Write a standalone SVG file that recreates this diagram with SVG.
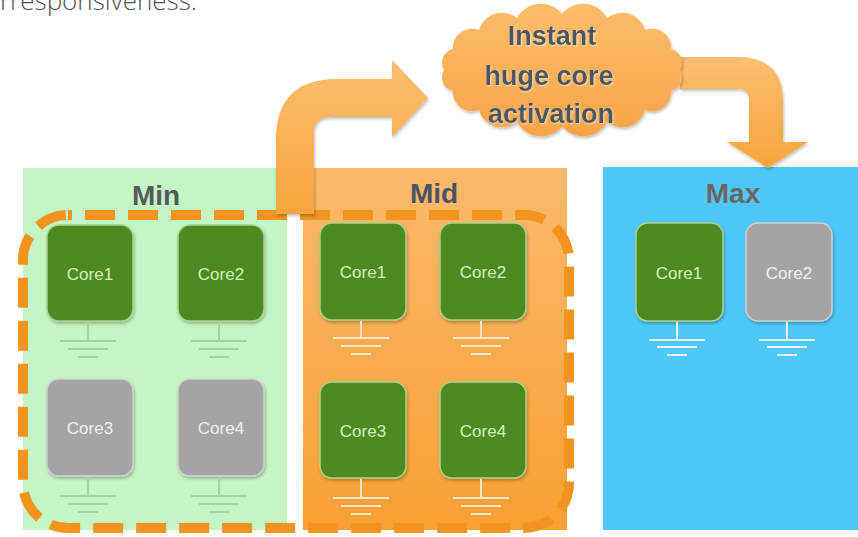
<svg xmlns="http://www.w3.org/2000/svg" width="858" height="537" viewBox="0 0 858 537">
<defs>
<style>
.top{font-family:"Open Sans","Liberation Sans",sans-serif;font-size:26px;font-weight:300;fill:#4f5458}
.plabel{font-family:"Liberation Sans",Arial,sans-serif;font-size:28px;font-weight:bold;text-anchor:middle}
.ctext{font-family:"Liberation Sans",Arial,sans-serif;font-size:17px;text-anchor:middle}
.green rect{fill:#4d8a22;stroke:#a9d48a;stroke-width:1.5}
.green text{fill:#d4f0bc}
.gray rect{fill:#a4a4a4;stroke:#cfcfcf;stroke-width:1.5}
.gray text{fill:#efefef}
.gnd{stroke-width:2;fill:none}
.gmin{stroke:#a6d3a6}
.gmid{stroke:#fde6c6}
.gmax{stroke:#e2f3fc}
.cloudtext{font-family:"Liberation Sans",Arial,sans-serif;font-size:27px;font-weight:bold;fill:#4a5663;text-anchor:middle}
</style>
<linearGradient id="midGrad" x1="0" y1="0" x2="0" y2="1">
<stop offset="0" stop-color="#fbb96c"/>
<stop offset="1" stop-color="#f8a033"/>
</linearGradient>
<linearGradient id="arrGrad" x1="0" y1="0" x2="0" y2="1">
<stop offset="0" stop-color="#fcbe70"/>
<stop offset="1" stop-color="#f7a53c"/>
</linearGradient>
<linearGradient id="cloudGrad" x1="0" y1="0" x2="0" y2="1">
<stop offset="0" stop-color="#fcbd6c"/>
<stop offset="1" stop-color="#f7a445"/>
</linearGradient>
<filter id="sh" x="-20%" y="-20%" width="140%" height="140%">
<feDropShadow dx="1" dy="2" stdDeviation="1.5" flood-color="#000" flood-opacity="0.25"/>
</filter>
<filter id="glow" x="-10%" y="-10%" width="120%" height="130%">
<feDropShadow dx="1" dy="1" stdDeviation="1" flood-color="#ffffff" flood-opacity="0.6"/>
</filter>
</defs>

<rect width="858" height="537" fill="#ffffff"/>
<text class="top" x="0" y="10">rresponsiveness.</text>

<g id="panel-min">
<rect x="23" y="168" width="264" height="362" fill="#c4f6c4"/>
<text class="plabel" x="156" y="205" fill="#545a5e">Min</text>
</g>
<g id="panel-mid">
<rect x="303" y="168" width="264" height="362" fill="url(#midGrad)"/>
<text class="plabel" x="434" y="203" fill="#4a5363">Mid</text>
</g>
<g id="panel-max">
<rect x="603" y="167" width="255" height="363" fill="#4dc8f8"/>
<text class="plabel" x="733" y="203" fill="#6c6663">Max</text>
</g>

<g id="min-core1" class="green">
<rect x="47" y="225" width="86" height="96" rx="12" filter="url(#sh)"/>
<text class="ctext" x="90" y="280">Core1</text>
<path class="gnd gmin" d="M88,322V341M60,341H116M68,349H108M78,357H98"/>
</g>
<g id="min-core2" class="green">
<rect x="178" y="225" width="86" height="96" rx="12" filter="url(#sh)"/>
<text class="ctext" x="221" y="280">Core2</text>
<path class="gnd gmin" d="M219,322V341M191,341H247M199,349H239M209,357H229"/>
</g>
<g id="min-core3" class="gray">
<rect x="47" y="379" width="86" height="97" rx="12" filter="url(#sh)"/>
<text class="ctext" x="90" y="434">Core3</text>
<path class="gnd gmin" d="M88,477V496M60,496H116M68,504H108M78,512H98"/>
</g>
<g id="min-core4" class="gray">
<rect x="178" y="379" width="86" height="97" rx="12" filter="url(#sh)"/>
<text class="ctext" x="221" y="434">Core4</text>
<path class="gnd gmin" d="M219,477V496M191,496H247M199,504H239M209,512H229"/>
</g>

<g id="mid-core1" class="green">
<rect x="320" y="223" width="86" height="97" rx="12" filter="url(#sh)"/>
<text class="ctext" x="363" y="278">Core1</text>
<path class="gnd gmid" d="M361,321V338M333,338H389M341,346H381M351,354H371"/>
</g>
<g id="mid-core2" class="green">
<rect x="440" y="223" width="86" height="97" rx="12" filter="url(#sh)"/>
<text class="ctext" x="483" y="278">Core2</text>
<path class="gnd gmid" d="M481,321V338M453,338H509M461,346H501M471,354H491"/>
</g>
<g id="mid-core3" class="green">
<rect x="320" y="382" width="86" height="96" rx="12" filter="url(#sh)"/>
<text class="ctext" x="363" y="437">Core3</text>
<path class="gnd gmid" d="M361,479V498M333,498H389M341,506H381M351,514H371"/>
</g>
<g id="mid-core4" class="green">
<rect x="440" y="382" width="86" height="96" rx="12" filter="url(#sh)"/>
<text class="ctext" x="483" y="437">Core4</text>
<path class="gnd gmid" d="M481,479V498M453,498H509M461,506H501M471,514H491"/>
</g>

<g id="max-core1" class="green">
<rect x="636" y="223" width="87" height="98" rx="12" filter="url(#sh)"/>
<text class="ctext" x="679" y="279">Core1</text>
<path class="gnd gmax" d="M677,322V340M649,340H705M657,347H697M667,355H687"/>
</g>
<g id="max-core2" class="gray">
<rect x="746" y="223" width="86" height="98" rx="12" filter="url(#sh)"/>
<text class="ctext" x="789" y="279">Core2</text>
<path class="gnd gmax" d="M787,322V340M759,340H815M767,347H807M777,355H797"/>
</g>

<g id="dashed-group">
<rect x="23" y="215" width="546" height="313" rx="45" ry="45" fill="none" stroke="#f39421" stroke-width="10" stroke-dasharray="30 13" stroke-dashoffset="26"/>
</g>

<g id="connectors">
<path id="arrow-up" d="M276,214 L276,140 Q276,79 337,79 L392,79 L392,60 L428,98 L392,137 L392,117 L330,117 Q314,117 314,133 L314,214 Z" fill="url(#arrGrad)" filter="url(#sh)"/>
<path id="arrow-down" d="M680,57 L738,57 Q783,57 783,102 L783,142 L808,142 L768,168 L727,142 L749,142 L749,100 Q749,89 738,89 L680,89 Z" fill="url(#arrGrad)" filter="url(#sh)"/>
</g>

<g id="cloud">
<path d="M680,70 A14,14 0 0 1 671,91 A19,19 0 0 1 645,110 A24,24 0 0 1 607,122 A27,27 0 0 1 562,126 A27,27 0 0 1 517,122 A24,24 0 0 1 479,110 A19,19 0 0 1 453,91 A14,14 0 0 1 444,70 A14,14 0 0 1 453,49 A19,19 0 0 1 479,30 A24,24 0 0 1 517,18 A27,27 0 0 1 562,14 A27,27 0 0 1 607,18 A24,24 0 0 1 645,30 A19,19 0 0 1 671,49 A14,14 0 0 1 680,70 Z" fill="url(#cloudGrad)" filter="url(#sh)"/>
<g filter="url(#glow)">
<text class="cloudtext" x="552" y="45">Instant</text>
<text class="cloudtext" x="549" y="85">huge core</text>
<text class="cloudtext" x="551" y="123">activation</text>
</g>
</g>
</svg>
